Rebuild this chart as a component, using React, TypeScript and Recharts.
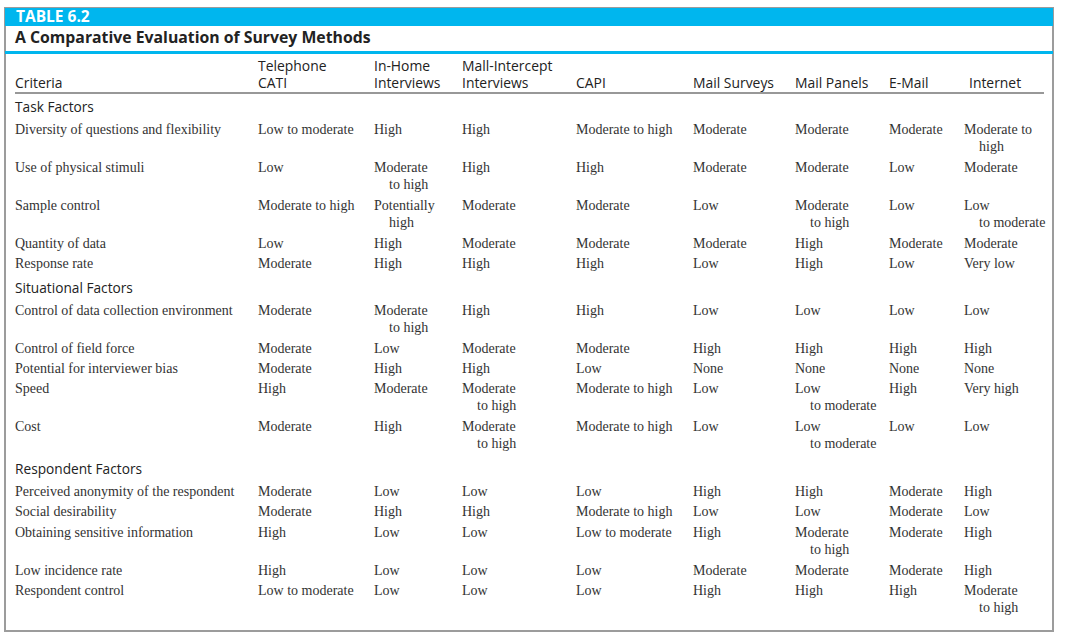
import { ScatterChart, Scatter, XAxis, YAxis, ReferenceArea, ReferenceLine } from 'recharts';

const TABLE_NO = 'TABLE 6.2';
const TITLE = 'A Comparative Evaluation of Survey Methods';
const CRITERIA_HEAD = 'Criteria';
const METHODS = [
  'Telephone\nCATI',
  'In-Home\nInterviews',
  'Mall-Intercept\nInterviews',
  'CAPI',
  'Mail Surveys',
  'Mail Panels',
  'E-Mail',
  'Internet',
];

const SECTIONS = ['Task Factors', 'Situational Factors', 'Respondent Factors'];

const TASK_CRITERIA = [
  'Diversity of questions and flexibility',
  'Use of physical stimuli',
  'Sample control',
  'Quantity of data',
  'Response rate',
];
const TASK_RATINGS = [
  ['Low to moderate', 'High', 'High', 'Moderate to high', 'Moderate', 'Moderate', 'Moderate', 'Moderate to\nhigh'],
  ['Low', 'Moderate\nto high', 'High', 'High', 'Moderate', 'Moderate', 'Low', 'Moderate'],
  ['Moderate to high', 'Potentially\nhigh', 'Moderate', 'Moderate', 'Low', 'Moderate\nto high', 'Low', 'Low\nto moderate'],
  ['Low', 'High', 'Moderate', 'Moderate', 'Moderate', 'High', 'Moderate', 'Moderate'],
  ['Moderate', 'High', 'High', 'High', 'Low', 'High', 'Low', 'Very low'],
];

const SITUATIONAL_CRITERIA = [
  'Control of data collection environment',
  'Control of field force',
  'Potential for interviewer bias',
  'Speed',
  'Cost',
];
const SITUATIONAL_RATINGS = [
  ['Moderate', 'Moderate\nto high', 'High', 'High', 'Low', 'Low', 'Low', 'Low'],
  ['Moderate', 'Low', 'Moderate', 'Moderate', 'High', 'High', 'High', 'High'],
  ['Moderate', 'High', 'High', 'Low', 'None', 'None', 'None', 'None'],
  ['High', 'Moderate', 'Moderate\nto high', 'Moderate to high', 'Low', 'Low\nto moderate', 'High', 'Very high'],
  ['Moderate', 'High', 'Moderate\nto high', 'Moderate to high', 'Low', 'Low\nto moderate', 'Low', 'Low'],
];

const RESPONDENT_CRITERIA = [
  'Perceived anonymity of the respondent',
  'Social desirability',
  'Obtaining sensitive information',
  'Low incidence rate',
  'Respondent control',
];
const RESPONDENT_RATINGS = [
  ['Moderate', 'Low', 'Low', 'Low', 'High', 'High', 'Moderate', 'High'],
  ['Moderate', 'High', 'High', 'Moderate to high', 'Low', 'Low', 'Moderate', 'Low'],
  ['High', 'Low', 'Low', 'Low to moderate', 'High', 'Moderate\nto high', 'Moderate', 'High'],
  ['High', 'Low', 'Low', 'Low', 'Moderate', 'Moderate', 'Moderate', 'High'],
  ['Low to moderate', 'Low', 'Low', 'Low', 'High', 'High', 'High', 'Moderate\nto high'],
];

// layout (pixels; the axes below map 1:1 onto the svg)
const W = 1071;
const H = 641;
const LEFT_X = 15;
const COL_X = [258, 374, 462, 576, 693, 795, 889, 964];
const LINE_H = 17;
const ROW_1 = 20.3;
const ROW_2 = 38;
const CYAN = '#00b6ee';
const SANS = '"Open Sans", "Noto Sans", sans-serif';
const SERIF = '"Liberation Serif", "DejaVu Serif", serif';

type Pt = { x: number; y: number; label: string };

const headPts: Pt[] = [{ x: LEFT_X, y: 83, label: CRITERIA_HEAD }];
METHODS.forEach((m, i) => {
  const two = m.includes('\n');
  headPts.push({ x: COL_X[i] + (i === 7 ? 5 : 0), y: two ? 66 : 83, label: m });
});

const sectionPts: Pt[] = [];
const criteriaPts: Pt[] = [];
const cellPts: Pt[] = [];
const blocks: [string[], string[][]][] = [
  [TASK_CRITERIA, TASK_RATINGS],
  [SITUATIONAL_CRITERIA, SITUATIONAL_RATINGS],
  [RESPONDENT_CRITERIA, RESPONDENT_RATINGS],
];
let cursor = 107;
blocks.forEach(([crit, ratings], s) => {
  sectionPts.push({ x: LEFT_X, y: cursor, label: SECTIONS[s] });
  cursor += 22;
  crit.forEach((c, r) => {
    criteriaPts.push({ x: LEFT_X, y: cursor, label: c });
    ratings[r].forEach((v, i) => cellPts.push({ x: COL_X[i], y: cursor, label: v }));
    const twoLine = ratings[r].some((v) => v.includes('\n'));
    cursor += twoLine ? ROW_2 : ROW_1;
  });
  cursor += 4.5;
});

const textShape =
  (family: string, size: number, weight: number, color: string, indent: number) =>
  (props: any) => {
    const { cx, cy, payload } = props;
    const lines = String(payload.label).split('\n');
    return (
      <text fontFamily={family} fontSize={size} fontWeight={weight} fill={color}>
        {lines.map((l, i) => (
          <tspan key={i} x={cx + (i > 0 ? indent : 0)} y={cy + i * LINE_H} dy="0.34em">
            {l}
          </tspan>
        ))}
      </text>
    );
  };

export default function App() {
  return (
    <div style={{ position: 'absolute', left: 0, top: 0, background: '#fff' }}>
      <ScatterChart width={W} height={H} margin={{ top: 0, right: 0, bottom: 0, left: 0 }}>
        <XAxis type="number" dataKey="x" domain={[0, W]} hide />
        <YAxis type="number" dataKey="y" domain={[0, H]} reversed hide />
        <ReferenceArea x1={5} x2={1053} y1={8} y2={631} fill="#fff" fillOpacity={1} stroke="#9c9c9c" strokeWidth={2} />
        <ReferenceArea x1={5} x2={1053} y1={8} y2={26} fill={CYAN} fillOpacity={1} stroke="none" />
        <ReferenceArea x1={5} x2={1053} y1={51} y2={54} fill={CYAN} fillOpacity={1} stroke="none" />
        <ReferenceLine
          segment={[
            { x: 15, y: 93 },
            { x: 1044, y: 93 },
          ]}
          stroke="#333"
          strokeWidth={1.2}
        />
        <Scatter
          data={[{ x: 16, y: 17, label: TABLE_NO }]}
          shape={textShape(SANS, 15.5, 700, '#fff', 0)}
          isAnimationActive={false}
        />
        <Scatter
          data={[{ x: 15, y: 38, label: TITLE }]}
          shape={textShape(SANS, 15.8, 700, '#222', 0)}
          isAnimationActive={false}
        />
        <Scatter data={headPts} shape={textShape(SANS, 13.9, 400, '#222', 0)} isAnimationActive={false} />
        <Scatter data={sectionPts} shape={textShape(SANS, 13.7, 400, '#222', 0)} isAnimationActive={false} />
        <Scatter data={criteriaPts} shape={textShape(SERIF, 14, 400, '#333', 0)} isAnimationActive={false} />
        <Scatter data={cellPts} shape={textShape(SERIF, 14, 400, '#333', 15)} isAnimationActive={false} />
      </ScatterChart>
    </div>
  );
}
